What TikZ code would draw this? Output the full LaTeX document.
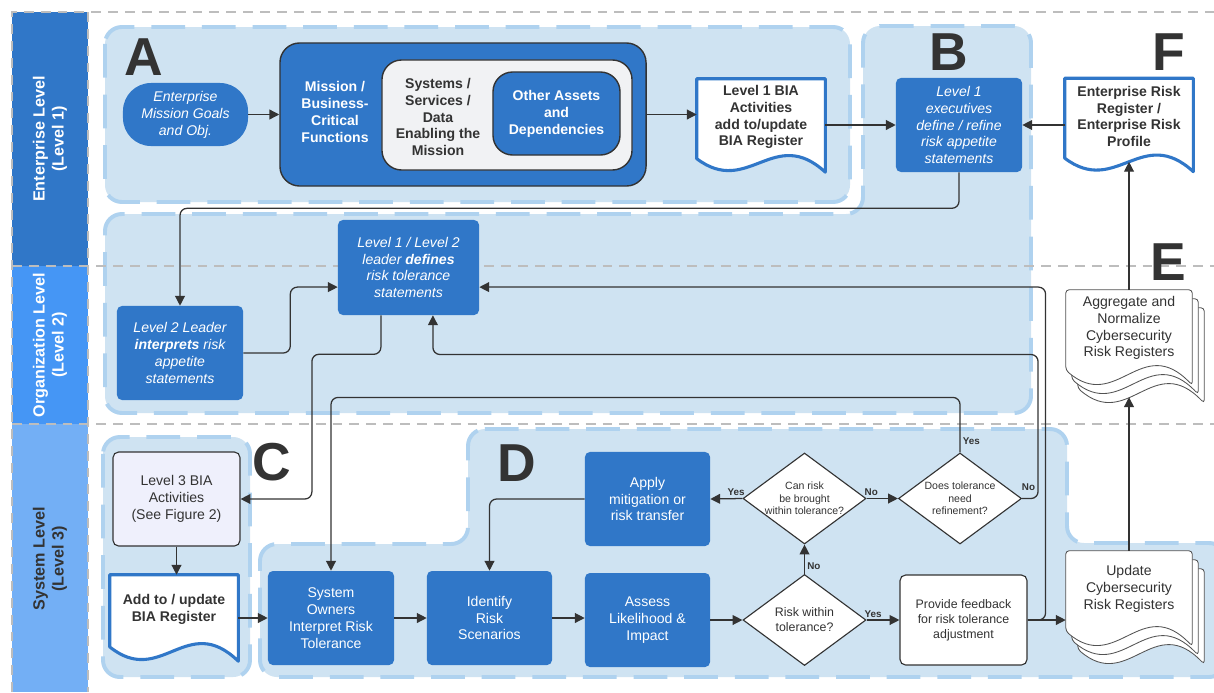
\documentclass[tikz,border=0pt]{standalone}
\usepackage{fontspec}
\setmainfont{Liberation Sans}
\usetikzlibrary{arrows.meta,shapes.geometric,calc}

\pgfdeclarelayer{regions}
\pgfdeclarelayer{docs}
\pgfsetlayers{regions,docs,main}

\definecolor{boxblue}{HTML}{3077C8}
\definecolor{lanetwo}{HTML}{4596F5}
\definecolor{lanethree}{HTML}{73AFF5}
\definecolor{regionfill}{HTML}{CFE3F2}
\definecolor{regionedge}{HTML}{AFD2EF}
\definecolor{laneedge}{HTML}{BDBDBD}
\definecolor{inkgray}{HTML}{333333}
\definecolor{paleface}{HTML}{F1F2F4}
\definecolor{lavender}{HTML}{EFF0FC}

% document outline: style, node, wave depth, offset
\newcommand\docoutline[4]{%
  \path[#1] ($(#2.north west)+(#4)$) -- ($(#2.north east)+(#4)$)
    -- ($(#2.south east)+(#4)+(0pt,-#3)$)
    .. controls ($(#2.south west)!0.6!(#2.south east)+(#4)+(0pt,1.8*#3)$)
    and ($(#2.south west)!0.4!(#2.south east)+(#4)+(0pt,-2.5*#3)$)
    .. ($(#2.south west)+(#4)+(0pt,-0.2*#3)$) -- cycle;}

\begin{document}
\begin{tikzpicture}[x=0.025cm, y=-0.025cm,
region/.style={fill=regionfill, draw=regionedge, line width=2.8pt, dash pattern=on 24pt off 12pt, rounded corners=12pt},
laneline/.style={draw=laneedge, line width=1.4pt, dash pattern=on 7pt off 5pt},
lanetext/.style={rotate=90, align=center, font=\fontsize{11.5}{13.5}\selectfont\bfseries},
letter/.style={font=\fontsize{38}{40}\selectfont\bfseries, text=inkgray, inner sep=0pt},
bluebox/.style={fill=boxblue, text=white, align=center, rounded corners=3.5pt, minimum width=3.15cm, minimum height=2.35cm, inner sep=2pt, font=\fontsize{10}{12}\selectfont},
italicbox/.style={bluebox, font=\fontsize{10}{12}\selectfont\itshape},
outerbox/.style={fill=boxblue, draw=inkgray, line width=1pt, rounded corners=14pt, text=white, align=center, font=\fontsize{10}{12}\selectfont\bfseries},
palebox/.style={fill=paleface, draw=inkgray, line width=1pt, rounded corners=14pt},
boldtext/.style={align=center, font=\fontsize{10}{12}\selectfont\bfseries, inner sep=1pt},
doctext/.style={align=center, text=inkgray, font=\fontsize{10}{12}\selectfont\bfseries, minimum width=3.2cm, minimum height=1.9cm, inner sep=1pt},
stacktext/.style={align=center, text=inkgray, font=\fontsize{10}{12}\selectfont, minimum width=3.15cm, minimum height=1.9cm, inner sep=1pt},
plainbox/.style={draw=inkgray, line width=0.8pt, rounded corners=4pt, text=inkgray, align=center, minimum width=3.175cm, minimum height=2.35cm, font=\fontsize{10}{12}\selectfont},
decision/.style={diamond, aspect=1.35, draw=inkgray, line width=0.8pt, fill=white, minimum width=3.075cm, minimum height=2.275cm, inner sep=-2pt, align=center, text=inkgray, font=\fontsize{7.5}{9}\selectfont},
docline/.style={fill=white, draw=boxblue, line width=2.2pt, line join=round},
stackline/.style={fill=white, draw=inkgray!85, line width=0.6pt, rounded corners=2.5pt},
lbl/.style={font=\fontsize{7}{8}\selectfont\bfseries, text=inkgray, inner sep=1.5pt},
flow/.style={-{Triangle[length=7pt,width=7pt]}, draw=inkgray, line width=0.9pt, rounded corners=5pt}
]
\useasboundingbox (0,0) rectangle (1214,692);

% swim lanes and groups
\begin{pgfonlayer}{regions}
\fill[boxblue] (12,12) rectangle (88,266);
\fill[lanetwo] (12,266) rectangle (88,424);
\fill[lanethree] (12,424) rectangle (88,692);
\draw[region] (105,27) rectangle (850,202);
\draw[region] (863,26) -- (1031,26) -- (1031,413) -- (105,413) -- (105,214) -- (863,214) -- cycle;
\draw[region] (103,437) rectangle (250,677);
\draw[region] (468,429) -- (1067,429) -- (1067,543) -- (1226,543) -- (1226,677) -- (260,677) -- (260,544) -- (468,544) -- cycle;
\draw[laneline] (12,692) -- (12,12) -- (1214,12);
\draw[laneline] (88,12) -- (88,692);
\draw[laneline] (12,266) -- (1214,266);
\draw[laneline] (12,424) -- (1214,424);
\end{pgfonlayer}

\node[lanetext, text=white] (entlane) at (50,139) {Enterprise Level\\(Level 1)};
\node[lanetext, text=white] (orglane) at (50,345) {Organization Level\\(Level 2)};
\node[lanetext, text=inkgray] (syslane) at (50,559) {System Level\\(Level 3)};

\node[letter] (lettera) at (144,57) {A};
\node[letter] (letterb) at (949,52) {B};
\node[letter] (letterc) at (272,462) {C};
\node[letter] (letterd) at (517,463) {D};
\node[letter] (lettere) at (1168,262) {E};
\node[letter] (letterf) at (1169,52) {F};

% level 1
\node[italicbox, minimum width=3.125cm, minimum height=1.575cm, rounded corners=0.7cm] (goals) at (185.5,114.5) {Enterprise\\Mission Goals\\and Obj.};
\node[outerbox, minimum width=9.15cm, minimum height=3.575cm] (mission) at (463,114.5) {};
\node[boldtext, text=white] (missiontxt) at (335,112) {Mission /\\Business-\\Critical\\Functions};
\node[palebox, minimum width=6.25cm, minimum height=2.75cm] (enabling) at (507,115) {};
\node[boldtext, text=inkgray] (enablingtxt) at (438,117) {Systems /\\Services /\\Data\\Enabling the\\Mission};
\node[outerbox, minimum width=3.175cm, minimum height=2.075cm] (assets) at (556.5,113.5) {Other Assets\\and\\Dependencies};
\node[doctext] (l1bia) at (761,117) {Level 1 BIA\\Activities\\add to/update\\BIA Register};
\node[italicbox] (execs) at (959,125) {Level 1\\executives\\define / refine\\risk appetite\\statements};
\node[doctext] (riskprofile) at (1129,116.5) {Enterprise Risk\\Register /\\Enterprise Risk\\Profile};

% level 2
\node[italicbox] (interp) at (180,353) {Level 2 Leader\\\textbf{interprets} risk\\appetite\\statements};
\node[italicbox, minimum width=3.525cm, minimum height=2.375cm] (tolerance) at (408.5,267.5) {Level 1 / Level 2\\leader \textbf{defines}\\risk tolerance\\statements};
\node[stacktext] (aggregate) at (1129,328) {Aggregate and\\Normalize\\Cybersecurity\\Risk Registers};

% level 3
\node[plainbox, fill=lavender] (l3bia) at (176.5,499) {Level 3 BIA\\Activities\\(See Figure 2)};
\node[doctext, minimum height=1.7cm] (biareg) at (174,609) {Add to / update\\BIA Register};
\node[bluebox] (owners) at (331,618) {System\\Owners\\Interpret Risk\\Tolerance};
\node[bluebox, minimum width=3.125cm] (scenarios) at (489.5,618) {Identify\\Risk\\Scenarios};
\node[bluebox, minimum width=3.125cm] (assess) at (647.5,620) {Assess\\Likelihood \&\\Impact};
\node[bluebox, minimum width=3.125cm] (mitigate) at (647.5,499) {Apply\\mitigation or\\risk transfer};
\node[decision, font=\fontsize{8.8}{10.6}\selectfont] (within) at (804.5,620) {Risk within\\tolerance?};
\node[decision] (canbring) at (804.5,498.5) {Can risk\\be brought\\within tolerance?};
\node[decision] (refine) at (960,498.5) {Does tolerance\\need\\refinement?};
\node[plainbox, fill=white, minimum height=2.25cm, font=\fontsize{8.8}{10.6}\selectfont] (feedback) at (963.5,620) {Provide feedback\\for risk tolerance\\adjustment};
\node[stacktext] (update) at (1129,589) {Update\\Cybersecurity\\Risk Registers};

\begin{pgfonlayer}{docs}
\docoutline{docline}{l1bia}{12pt}{0pt,0pt}
\docoutline{docline}{riskprofile}{12pt}{0pt,0pt}
\docoutline{docline}{biareg}{12.75pt}{0pt,0pt}
\docoutline{stackline}{aggregate}{13.5pt}{8.5pt,-12.8pt}
\docoutline{stackline}{aggregate}{13.5pt}{4.25pt,-6.4pt}
\docoutline{stackline}{aggregate}{13.5pt}{0pt,0pt}
\docoutline{stackline}{update}{13.5pt}{8.5pt,-12.8pt}
\docoutline{stackline}{update}{13.5pt}{4.25pt,-6.4pt}
\docoutline{stackline}{update}{13.5pt}{0pt,0pt}
\end{pgfonlayer}

% connectors
\draw[flow] (goals.east) -- (goals.east -| mission.west);
\draw[flow] (mission.east) -- (mission.east -| l1bia.west);
\draw[flow] (execs.west -| l1bia.east) -- (execs.west);
\draw[flow] (execs.east -| riskprofile.west) -- (execs.east);
\draw[flow] (aggregate.north) -- ([yshift=-5pt]riskprofile.south);
\draw[flow] (execs.south) -- ++(0,36) -| (interp.north);
\draw[flow] (interp.east) -- ++(47,0) |- ([yshift=-0.49cm]tolerance.west);
\draw[flow] ([xshift=-0.69cm]tolerance.south) -- ++(0,39) -- ++(-69,0) |- (l3bia.east);
\draw[flow] (l3bia.south) -- (l3bia.south |- biareg.north);
\draw[flow] (owners.west -| biareg.east) -- (owners.west);
\draw[flow] (owners.east) -- (scenarios.west);
\draw[flow] (scenarios.east) -- (scenarios.east -| assess.west);
\draw[flow] (assess.east) -- (within.west);
\draw[flow] (within.north) -- node[lbl, right, pos=0.25] {No} (canbring.south);
\draw[flow] (within.east) -- node[lbl, above, pos=0.2] {Yes} (feedback.west);
\draw[flow] (canbring.west) -- node[lbl, above, pos=0.2] {Yes} (mitigate.east);
\draw[flow] (canbring.east) -- node[lbl, above, pos=0.15] {No} (refine.west);
\draw[flow] (mitigate.west) -| (scenarios.north);
\draw[flow] (refine.north) -- node[lbl, right, pos=0.2] {Yes} ++(0,-55) -| (owners.north);
\draw[flow] (refine.east) -- node[lbl, above=4pt, pos=0.4] {No} ++(16,0) -- ++(0,-144) -| ([xshift=0.61cm]tolerance.south);
\draw[flow] (feedback.east) -- (feedback.east -| update.west);
\draw[flow] (feedback.east) -- ++(18,0) |- ([yshift=-0.49cm]tolerance.east);
\draw[flow] (update.north) -- ([yshift=-22pt]aggregate.south);

\end{tikzpicture}
\end{document}
